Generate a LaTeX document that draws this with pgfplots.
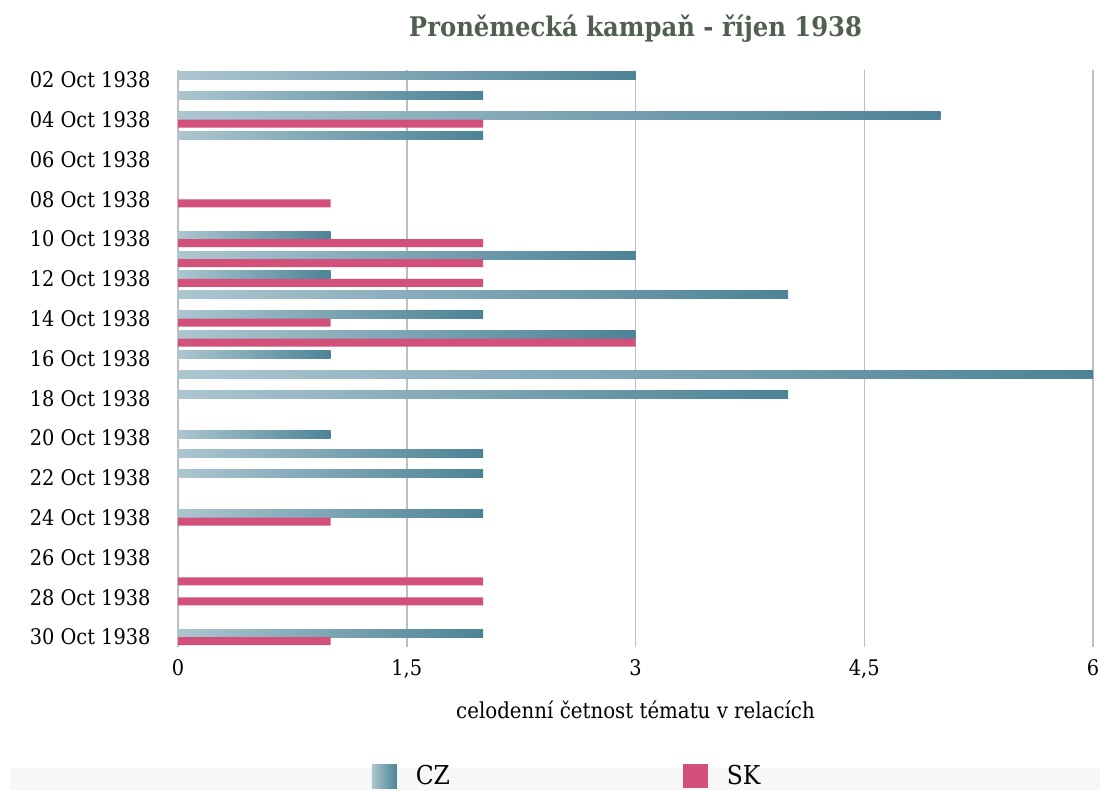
\documentclass[border=0pt]{standalone}
\usepackage{pgfplots}
\pgfplotsset{compat=1.18}
\usepackage{fontspec}
\setmainfont{DejaVu Serif Condensed}
\definecolor{czL}{RGB}{172,198,208}
\definecolor{czR}{RGB}{76,131,150}
\definecolor{skC}{RGB}{210,80,122}
\definecolor{titleC}{RGB}{80,95,80}
\definecolor{gridC}{RGB}{190,190,190}
\pgfplotsset{
  czbar/.style={xbar, bar width=8pt, draw=none, left color=czL, right color=czR, bar shift=4pt, forget plot},
  skbar/.style={xbar, bar width=8pt, draw=none, fill=skC, bar shift=-4pt, forget plot},
}
\begin{document}
\begin{tikzpicture}
\useasboundingbox (0,0) rectangle (1100pt,790pt);
\fill[black!3] (10pt,0) rectangle (1100pt,22pt);
\begin{axis}[
  at={(178pt,143pt)}, anchor=south west,
  scale only axis, width=915pt, height=577pt,
  xmin=0, xmax=6, ymin=1.5, ymax=30.5,
  y dir=reverse,
  xtick={0,1.5,3,4.5,6},
  ytick={2,4,...,30},
  yticklabels={02 Oct 1938,04 Oct 1938,06 Oct 1938,08 Oct 1938,10 Oct 1938,12 Oct 1938,14 Oct 1938,16 Oct 1938,18 Oct 1938,20 Oct 1938,22 Oct 1938,24 Oct 1938,26 Oct 1938,28 Oct 1938,30 Oct 1938},
  /pgf/number format/assume math mode=true,
  /pgf/number format/use comma,
  xmajorgrids, major grid style={gridC, line width=1.5pt},
  axis line style={draw=none},
  major tick length=0pt,
  tick label style={font=\fontsize{21.5}{24}\selectfont, black},
  yticklabel style={xshift=-24pt},
  xticklabel style={yshift=-9pt},
  xlabel={celodenní četnost tématu v relacích},
  xlabel style={at={(axis description cs:0.5,-0.109)}, anchor=center, font=\fontsize{22}{26}\selectfont},
  title={\bfseries Proněmecká kampaň - říjen 1938},
  title style={font=\fontsize{27}{32}\selectfont, text=titleC, at={(axis description cs:0.5,1)}, anchor=center, yshift=35pt},
  legend columns=2,
  legend style={at={(axis description cs:0.4253,-0.2236)}, anchor=center, draw=none, fill=none,
    font=\fontsize{26}{30}\selectfont,
    /tikz/every odd column/.append style={column sep=17pt},
    /tikz/every even column/.append style={column sep=231pt}},
]
\addlegendimage{legend image code/.code={\fill[draw=none, left color=czL, right color=czR] (0pt,-12pt) rectangle (25pt,12pt);}}
\addlegendentry{CZ}
\addlegendimage{legend image code/.code={\fill[draw=none, skC] (0pt,-12pt) rectangle (25pt,12pt);}}
\addlegendentry{SK}
% CZ
\addplot[czbar] coordinates {(3,2)};
\addplot[czbar] coordinates {(2,3)};
\addplot[czbar] coordinates {(5,4)};
\addplot[czbar] coordinates {(2,5)};
\addplot[czbar] coordinates {(1,10)};
\addplot[czbar] coordinates {(3,11)};
\addplot[czbar] coordinates {(1,12)};
\addplot[czbar] coordinates {(4,13)};
\addplot[czbar] coordinates {(2,14)};
\addplot[czbar] coordinates {(3,15)};
\addplot[czbar] coordinates {(1,16)};
\addplot[czbar] coordinates {(6,17)};
\addplot[czbar] coordinates {(4,18)};
\addplot[czbar] coordinates {(1,20)};
\addplot[czbar] coordinates {(2,21)};
\addplot[czbar] coordinates {(2,22)};
\addplot[czbar] coordinates {(2,24)};
\addplot[czbar] coordinates {(2,30)};
% SK
\addplot[skbar] coordinates {(2,4) (1,8) (2,10) (2,11) (2,12) (1,14) (3,15) (1,24) (2,27) (2,28) (1,30)};
\end{axis}
\end{tikzpicture}
\end{document}
